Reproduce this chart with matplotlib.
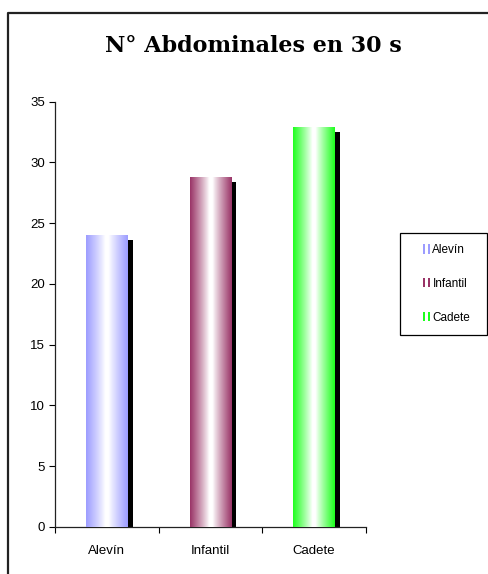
import matplotlib

matplotlib.use("Agg")
import matplotlib.pyplot as plt
import numpy as np
from matplotlib.colors import to_rgb
from matplotlib.legend_handler import HandlerBase
from matplotlib.lines import Line2D
from matplotlib.patches import Rectangle

# Datos
categorias = ["Alevín", "Infantil", "Cadete"]
abdominales = [24.0, 28.8, 32.9]
colores = ["#9c9cff", "#993366", "#1eff1e"]
titulo = "N° Abdominales en 30 s"
y_ticks = [0, 5, 10, 15, 20, 25, 30, 35]

plt.rcParams["font.family"] = ["Liberation Sans", "DejaVu Sans"]


def degradado(color, n=200):
    """Franja horizontal: color en los bordes, blanco en el centro."""
    x = np.linspace(0.0, 1.0, n)
    t = np.clip((np.abs(x - 0.5) - 0.04) / 0.46, 0.0, 1.0) ** 0.9
    base = np.array(to_rgb(color))
    fila = (1 - t)[:, None] * np.ones(3) + t[:, None] * base
    return fila[None, :, :]


class HandlerFranjas(HandlerBase):
    """Icono de leyenda con tres franjas (color, blanco, color)."""

    def create_artists(self, legend, orig_handle, xdescent, ydescent,
                       width, height, fontsize, trans):
        color = orig_handle.get_facecolor()
        w = width / 3.0
        partes = []
        for i, c in enumerate([color, "white", color]):
            partes.append(Rectangle((-xdescent + i * w, -ydescent), w, height,
                                    facecolor=c, edgecolor="none",
                                    transform=trans))
        return partes


fig = plt.figure(figsize=(4.88, 5.74), dpi=100)
fig.patch.set_facecolor("white")
ax = fig.add_axes([55 / 488, 0.0822, (366 - 55) / 488, 0.7406])

x = np.arange(len(categorias))
ancho = 0.4
dx = 0.05
dy = 0.42

# sombra negra desplazada
ax.bar(x + dx, np.array(abdominales) - dy, ancho, color="black", zorder=2)
barras = ax.bar(x, abdominales, ancho, facecolor="none", edgecolor="none", zorder=3)
for barra, color in zip(barras, colores):
    x0, w, h = barra.get_x(), barra.get_width(), barra.get_height()
    im = ax.imshow(degradado(color), extent=(x0, x0 + w, 0, h),
                   aspect="auto", interpolation="bilinear", zorder=3)
    im.set_clip_path(barra)

ax.set_xlim(-0.5, len(categorias) - 0.5)
ax.set_ylim(0, 35)
ax.set_yticks(y_ticks)
ax.tick_params(axis="y", direction="out", length=4, width=0.8,
               labelsize=9.5, pad=3)
ax.set_xticks(x)
ax.set_xticklabels(categorias)
ax.set_xticks(np.arange(len(categorias) + 1) - 0.5, minor=True)
ax.tick_params(axis="x", which="major", length=0, labelsize=9.5, pad=13)
ax.tick_params(axis="x", which="minor", direction="out", length=4, width=0.8)
for lado in ["top", "right"]:
    ax.spines[lado].set_visible(False)
for lado in ["left", "bottom"]:
    ax.spines[lado].set_linewidth(0.9)
    ax.spines[lado].set_color("#222222")

fig.text(253 / 488, 1 - 46 / 574, titulo, ha="center", va="center",
         fontsize=16, fontweight="bold", family="DejaVu Serif")

# leyenda
manijas = [Rectangle((0, 0), 1, 1, facecolor=c) for c in colores]
leyenda = fig.legend(manijas, categorias, loc="upper left",
                     bbox_to_anchor=(423 / 488, 1 - 244 / 574),
                     frameon=False, fontsize=8.5, handlelength=0.6,
                     handleheight=0.85, handletextpad=0.2, labelspacing=1.85,
                     borderpad=0, borderaxespad=0,
                     handler_map={Rectangle: HandlerFranjas()})
fig.patches.append(Rectangle((400 / 488, 1 - 335 / 574), 87 / 488, 102 / 574,
                             transform=fig.transFigure, facecolor="none",
                             edgecolor="black", linewidth=0.9))

# marco exterior del gráfico
fig.add_artist(Line2D([8 / 488, 8 / 488, 1.0], [0.0, 1 - 13 / 574, 1 - 13 / 574],
                      transform=fig.transFigure, color="#222222", linewidth=1.6))

fig.savefig("out.png", dpi=100)
